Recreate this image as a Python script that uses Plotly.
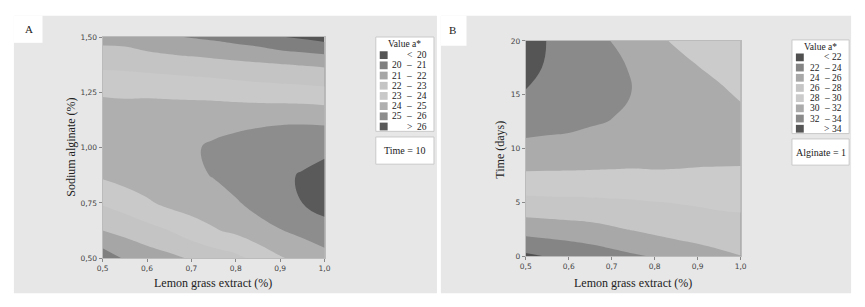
import plotly.graph_objects as go

# ---------------- data ----------------
# Panel A: a* vs lemon grass extract (x) and sodium alginate (y), Time = 10
a_x = [0.5, 0.55, 0.6, 0.65, 0.7, 0.75, 0.8, 0.85, 0.9, 0.95, 1.0]
a_y = [0.5, 0.625, 0.75, 0.875, 1.0, 1.125, 1.25, 1.375, 1.5]
a_z = [
    [20.44, 21.1, 21.45, 21.75, 22.1, 22.45, 22.75, 23.3, 23.9, 24.3, 24.6],
    [21.99, 22.3, 22.65, 23.0, 23.5, 23.9, 24.2, 24.65, 24.95, 25.25, 25.65],
    [23.1, 23.45, 23.85, 24.25, 24.45, 24.6, 24.9, 25.3, 25.7, 26.0, 26.35],
    [24.15, 24.4, 24.6, 24.72, 24.8, 25.05, 25.4, 25.65, 25.88, 26.05, 26.3],
    [24.55, 24.6, 24.7, 24.8, 24.9, 25.12, 25.3, 25.5, 25.65, 25.75, 25.8],
    [24.5, 24.5, 24.55, 24.6, 24.65, 24.7, 24.75, 24.8, 24.85, 24.85, 24.8],
    [23.9, 23.85, 23.85, 23.8, 23.75, 23.7, 23.6, 23.5, 23.45, 23.4, 23.3],
    [22.78, 22.75, 22.65, 22.55, 22.45, 22.35, 22.25, 22.15, 22.05, 21.95, 21.85],
    [21.66, 21.6, 21.3, 21.1, 20.95, 20.8, 20.6, 20.4, 20.05, 19.85, 19.6],
]
a_levels = [20, 21, 22, 23, 24, 25, 26]
a_colors = ['#555555', '#7f7f7f', '#a6a6a6', '#c4c4c4', '#c9c9c9', '#afafaf', '#8d8d8d', '#5a5a5a']

# Panel B: a* vs lemon grass extract (x) and time (y), Alginate = 1
b_x = [0.5, 0.55, 0.6, 0.65, 0.7, 0.75, 0.8, 0.85, 0.9, 0.95, 1.0]
b_y = [0, 2.5, 5, 7.5, 10, 12.5, 15, 17.5, 20]
b_z = [
    [21.6, 22.05, 22.4, 22.85, 23.3, 23.75, 24.1, 24.5, 24.95, 25.5, 25.95],
    [24.82, 25.0, 25.2, 25.4, 25.75, 26.1, 26.5, 26.9, 27.2, 27.4, 27.5],
    [27.43, 27.5, 27.55, 27.6, 27.7, 27.8, 27.95, 28.05, 28.15, 28.25, 28.3],
    [29.7, 29.7, 29.7, 29.7, 29.7, 29.7, 29.8, 29.8, 29.75, 29.75, 29.75],
    [31.55, 31.4, 31.3, 31.15, 31.0, 30.85, 30.7, 30.6, 30.55, 30.5, 30.45],
    [32.7, 32.6, 32.5, 32.2, 31.95, 31.6, 31.2, 30.95, 30.8, 30.6, 30.4],
    [33.85, 33.4, 33.1, 32.75, 32.4, 31.95, 31.3, 30.95, 30.6, 30.25, 29.85],
    [34.6, 33.8, 33.4, 32.9, 32.35, 31.85, 31.0, 30.55, 30.05, 29.7, 29.3],
    [35.1, 33.95, 33.45, 32.75, 31.95, 31.35, 30.35, 29.8, 29.3, 28.95, 28.6],
]
b_levels = [22, 24, 26, 28, 30, 32, 34]
b_colors = ['#505050', '#858585', '#a8a8a8', '#c6c6c6', '#cbcbcb', '#ababab', '#8a8a8a', '#555555']

x_ticks = [0.5, 0.6, 0.7, 0.8, 0.9, 1.0]
a_y_ticks = [0.5, 0.75, 1.0, 1.25, 1.5]
b_y_ticks = [0, 5, 10, 15, 20]

# ---------------- figure ----------------
W, H = 865, 307
def px(x):
    return x / W
def py(y):
    return 1 - y / H

SERIF = "Liberation Serif"
SANS = "DejaVu Sans"
PANEL = "#e7e7e7"

def cscale(colors):
    n = len(colors) - 1
    return [[i / n, c] for i, c in enumerate(colors)]

fig = go.Figure()
fig.add_trace(go.Contour(
    x=a_x, y=a_y, z=a_z, xaxis="x", yaxis="y",
    contours=dict(start=a_levels[0], end=a_levels[-1], size=a_levels[1] - a_levels[0], coloring="fill"),
    colorscale=cscale(a_colors), showscale=False,
    line=dict(width=0, smoothing=1.3), hoverinfo="skip",
))
fig.add_trace(go.Contour(
    x=b_x, y=b_y, z=b_z, xaxis="x2", yaxis="y2",
    contours=dict(start=b_levels[0], end=b_levels[-1], size=b_levels[1] - b_levels[0], coloring="fill"),
    colorscale=cscale(b_colors), showscale=False,
    line=dict(width=0, smoothing=1.3), hoverinfo="skip",
))

axis_common = dict(showgrid=False, zeroline=False, ticks="outside", ticklen=3, tickwidth=1,
                   tickcolor="#888", showline=True, linecolor="#bbbbbb", linewidth=1, mirror=True,
                   tickfont=dict(family=SANS, size=7.5, color="#444"))

fig.update_layout(
    width=W, height=H, margin=dict(l=0, r=0, t=0, b=0),
    paper_bgcolor="white", plot_bgcolor="white", separators=",.",
    showlegend=False,
    xaxis=dict(domain=[px(98), px(323)], range=[0.5, 1.0], tickvals=x_ticks, tickformat=".1f",
               anchor="y", **axis_common),
    yaxis=dict(domain=[py(262), py(34)], range=[0.5, 1.5], tickvals=a_y_ticks, tickformat=".2f",
               anchor="x", **axis_common),
    xaxis2=dict(domain=[px(527), px(745)], range=[0.5, 1.0], tickvals=x_ticks, tickformat=".1f",
                anchor="y2", **axis_common),
    yaxis2=dict(domain=[py(260), py(38)], range=[0, 20], tickvals=b_y_ticks, tickformat="d",
                anchor="x2", **axis_common),
)

shapes = []
annotations = []

def rect(x0, y0, x1, y1, fill, line=None):
    shapes.append(dict(type="rect", xref="paper", yref="paper", layer="below",
                       x0=px(x0), x1=px(x1), y0=py(y1), y1=py(y0), fillcolor=fill,
                       line=dict(width=1 if line else 0, color=line or fill)))

def text(x, y, s, size=9, family=SERIF, xanchor="center", angle=0, color="#222"):
    annotations.append(dict(xref="paper", yref="paper", x=px(x), y=py(y), text=s, showarrow=False,
                            xanchor=xanchor, yanchor="middle", textangle=angle,
                            font=dict(family=family, size=size, color=color)))

# panel backgrounds with white label corners
rect(8, 12, 437, 298, PANEL)
rect(8, 12, 37, 40, "white")
rect(441, 12, 857, 298, PANEL)
rect(441, 12, 467, 43, "white")
text(23, 26, "A", size=11)
text(453, 27, "B", size=11)

# axis titles
text(210, 287, "Lemon grass extract (%)", size=12)
text(66, 148, "Sodium alginate (%)", size=12, angle=-90)
text(636, 287, "Lemon grass extract (%)", size=12)
text(501, 150, "Time (days)", size=12, angle=-90)

def legend(x0, x1, y0, title, row0, dy, levels, colors, sw_x, lx, sx, rx, cond, cy0, cy1):
    fs = 9.5
    rect(x0, y0, x1, row0 + dy * (len(colors) - 1) + 5, "white", "#c9c9c9")
    text((x0 + x1) / 2, y0 + 7, title, size=fs)
    for i, c in enumerate(colors):
        yy = row0 + dy * i
        shapes.append(dict(type="rect", xref="paper", yref="paper",
                           x0=px(sw_x - 4), x1=px(sw_x + 4), y0=py(yy + 4), y1=py(yy - 4),
                           fillcolor=c, line=dict(width=0)))
        if i == 0:
            text(sx, yy, "<", size=fs)
            text(rx, yy, str(levels[0]), size=fs)
        elif i == len(colors) - 1:
            text(sx, yy, ">", size=fs)
            text(rx, yy, str(levels[-1]), size=fs)
        else:
            text(lx, yy, str(levels[i - 1]), size=fs)
            text(sx, yy, "–", size=fs)
            text(rx, yy, str(levels[i]), size=fs)
    rect(x0, cy0, x1, cy1, "white", "#c9c9c9")
    text((x0 + x1) / 2, (cy0 + cy1) / 2, cond, size=10)

legend(375, 434, 34, "Value a*", 52.7, 10.5, a_levels, a_colors, 383, 397, 409, 422,
       "Time = 10", 137, 165)
legend(797, 855, 37, "Value a*", 55, 10.5, b_levels, b_colors, 805, 820, 832.5, 843,
       "Alginate = 1", 139, 166)

fig.update_layout(shapes=shapes, annotations=annotations)
fig.write_html("out.html", config={"displayModeBar": False},
               post_script="document.body.style.margin='0';document.body.style.overflow='hidden';")
